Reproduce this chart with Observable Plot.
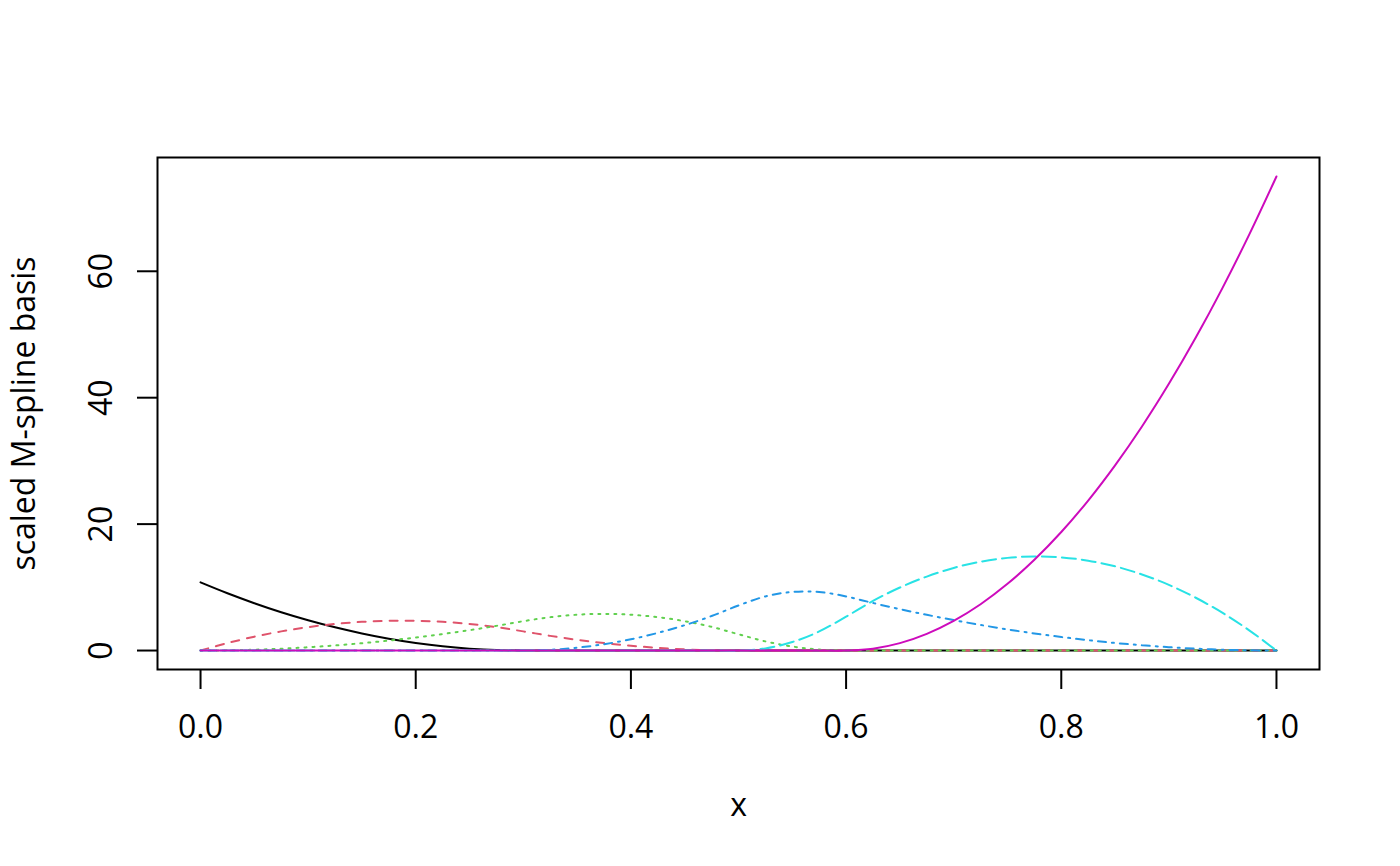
<!DOCTYPE html>
<html>
<head>
<meta charset="utf-8">
<script src="https://cdn.jsdelivr.net/npm/d3@7"></script>
<script src="https://cdn.jsdelivr.net/npm/@observablehq/plot@0.6"></script>
<style>
  html, body { margin: 0; padding: 0; background: #ffffff; }
</style>
</head>
<body>
<script>
// x positions of the sampled curves
const xs = [0, 0.025, 0.05, 0.075, 0.1, 0.125, 0.15, 0.175, 0.2, 0.225, 0.25, 0.275, 0.3,
  0.325, 0.35, 0.375, 0.4, 0.425, 0.45, 0.475, 0.5, 0.525, 0.55, 0.575, 0.6,
  0.625, 0.65, 0.675, 0.7, 0.725, 0.75, 0.775, 0.8, 0.825, 0.85, 0.875, 0.9,
  0.925, 0.95, 0.975, 1];

// six scaled M-spline basis functions
const basis1 = [10.78, 9.06, 7.49, 6.06, 4.79, 3.67, 2.70, 1.87, 1.20, 0.67, 0.30, 0.07, 0,
  0, 0, 0, 0, 0, 0, 0, 0, 0, 0, 0, 0,
  0, 0, 0, 0, 0, 0, 0, 0, 0, 0, 0, 0, 0, 0, 0, 0];
const basis2 = [0, 1.18, 2.19, 3.03, 3.70, 4.21, 4.54, 4.71, 4.71, 4.54, 4.21, 3.70, 3.03,
  2.32, 1.70, 1.18, 0.76, 0.43, 0.19, 0.05, 0, 0, 0, 0, 0,
  0, 0, 0, 0, 0, 0, 0, 0, 0, 0, 0, 0, 0, 0, 0, 0];
const basis3 = [0, 0.03, 0.13, 0.29, 0.52, 0.81, 1.16, 1.58, 2.06, 2.61, 3.22, 3.90, 4.64,
  5.28, 5.67, 5.80, 5.67, 5.28, 4.64, 3.74, 2.58, 1.45, 0.64, 0.16, 0,
  0, 0, 0, 0, 0, 0, 0, 0, 0, 0, 0, 0, 0, 0, 0, 0];
const basis4 = [0, 0, 0, 0, 0, 0, 0, 0, 0, 0, 0, 0, 0,
  0.11, 0.45, 1.00, 1.78, 2.79, 4.01, 5.46, 7.13, 8.56, 9.27, 9.27, 8.56,
  7.52, 6.55, 5.65, 4.81, 4.05, 3.34, 2.71, 2.14, 1.64, 1.20, 0.84, 0.53,
  0.30, 0.13, 0.03, 0];
const basis5 = [0, 0, 0, 0, 0, 0, 0, 0, 0, 0, 0, 0, 0,
  0, 0, 0, 0, 0, 0, 0, 0, 0.34, 1.34, 3.02, 5.36,
  7.85, 9.97, 11.70, 13.07, 14.05, 14.66, 14.89, 14.74, 14.22, 13.32, 12.04, 10.39,
  8.35, 5.95, 3.16, 0];
const basis6 = [0, 0, 0, 0, 0, 0, 0, 0, 0, 0, 0, 0, 0,
  0, 0, 0, 0, 0, 0, 0, 0, 0, 0, 0, 0,
  0.29, 1.17, 2.64, 4.69, 7.32, 10.55, 14.36, 18.75, 23.73, 29.30, 35.45, 42.19,
  49.51, 57.42, 65.92, 75];

const seriesList = [basis1, basis2, basis3, basis4, basis5, basis6];
const seriesColors = ["#000000", "#DF536B", "#61D04F", "#2297E6", "#28E2E5", "#CD0BBC"];
const seriesDash = [null, "8,8", "2,6", "2,6,8,6", "14,6", null];

const xTicks = [0, 0.2, 0.4, 0.6, 0.8, 1.0];
const yTicks = [0, 20, 40, 60];
const xTitle = "x";
const yTitle = "scaled M-spline basis";

const FONT = "'Open Sans', 'Noto Sans', sans-serif";

const lineMarks = seriesList.map((vals, i) => Plot.line(vals, {
  x: xs,
  y: d => d,
  stroke: seriesColors[i],
  strokeWidth: 2,
  strokeDasharray: seriesDash[i] || undefined,
  strokeLinecap: "round",
  strokeLinejoin: "round",
  curve: "catmull-rom"
}));

const chart = Plot.plot({
  width: 1400,
  height: 866,
  marginLeft: 157,
  marginRight: 81,
  marginTop: 157,
  marginBottom: 197,
  style: { fontFamily: FONT, fontSize: "32px", background: "#ffffff", color: "#000000" },
  x: { domain: [-0.04, 1.04], label: null },
  y: { domain: [-3, 78], label: null },
  marks: [
    ...lineMarks,
    Plot.frame({ stroke: "#000000", strokeWidth: 2 }),
    Plot.axisX({
      ticks: xTicks, tickSize: 20, tickPadding: 26, strokeWidth: 2,
      tickFormat: d => d.toFixed(1), fontSize: 32, label: null
    }),
    Plot.axisY({
      ticks: yTicks, tickSize: 20, strokeWidth: 2,
      tickFormat: () => "", label: null
    }),
    Plot.text(yTicks, {
      y: d => d, text: d => String(d), frameAnchor: "left", dx: -46,
      rotate: -90, textAnchor: "middle", lineAnchor: "bottom", fontSize: 32, fill: "#000000"
    }),
    Plot.text([yTitle], {
      text: d => d, frameAnchor: "left", dx: -123, rotate: -90,
      textAnchor: "middle", lineAnchor: "bottom", fontSize: 32, fill: "#000000"
    }),
    Plot.text([xTitle], {
      text: d => d, frameAnchor: "bottom", dy: 146, textAnchor: "middle",
      lineAnchor: "bottom", fontSize: 32, fill: "#000000"
    })
  ]
});
document.body.appendChild(chart);
</script>
</body>
</html>
